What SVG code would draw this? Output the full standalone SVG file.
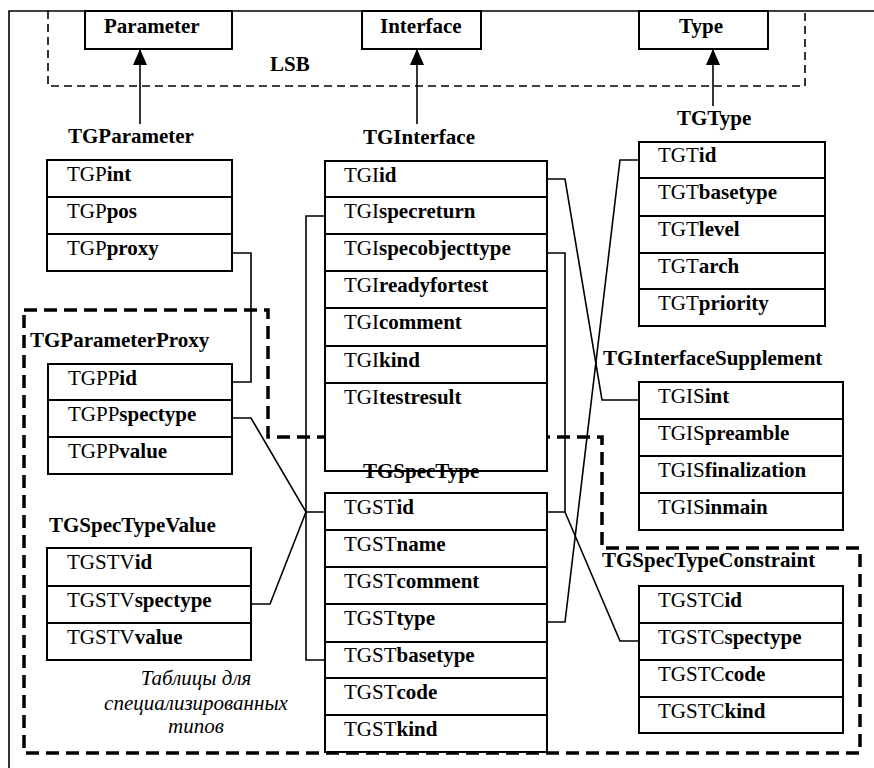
<svg xmlns="http://www.w3.org/2000/svg" width="874" height="768" viewBox="0 0 874 768">
<style>
text{font-family:"Liberation Serif","Times New Roman",serif;font-size:21px;fill:#000}
.b{font-weight:bold}
.it{font-style:italic}
.box{fill:#fff;stroke:#000;stroke-width:2}
.sep{stroke:#000;stroke-width:1.8}
.con{fill:none;stroke:#000;stroke-width:1.6}
.lsb{fill:none;stroke:#000;stroke-width:1.6;stroke-dasharray:8 5}
.grp{fill:none;stroke:#000;stroke-width:3.5;stroke-dasharray:13 7}
</style>
<defs>
<marker id="ah" viewBox="0 0 16 14" refX="16" refY="7" markerWidth="16" markerHeight="14" markerUnits="userSpaceOnUse" orient="auto">
<path d="M0,0 L16,7 L0,14 Z" fill="#000"/>
</marker>
</defs>
<rect x="0" y="0" width="874" height="768" fill="#fff"/>
<path d="M9,768 V11 H874" fill="none" stroke="#000" stroke-width="1.6"/>

<g id="lsb">
<path class="lsb" d="M48,11 V86 H805 V11"/>
<text class="b" x="270" y="71">LSB</text>
</g>

<g id="parameter">
<rect class="box" x="85" y="11" width="147" height="38"/>
<text class="b" x="104" y="33">Parameter</text>
</g>
<g id="interface">
<rect class="box" x="362" y="11" width="119" height="38"/>
<text class="b" x="380" y="33">Interface</text>
</g>
<g id="type">
<rect class="box" x="639" y="11" width="129" height="38"/>
<text class="b" x="679" y="33">Type</text>
</g>

<g id="region">
<path class="grp" d="M24,310 H268 V437 H602 V548 H860 V753 H24 Z"/>
<text class="it" text-anchor="middle" x="196" y="685">Таблицы для</text>
<text class="it" text-anchor="middle" x="196" y="710">специализированных</text>
<text class="it" text-anchor="middle" x="196" y="733">типов</text>
</g>

<g id="connectors">
<path class="con" d="M140,124 V49" marker-end="url(#ah)"/>
<path class="con" d="M417,124 V49" marker-end="url(#ah)"/>
<path class="con" d="M713,106 V49" marker-end="url(#ah)"/>
<path class="con" d="M232,253 H251 V382 H232"/>
<path class="con" d="M232,418 H251 L306,512 H325"/>
<path class="con" d="M251,604 H270 L306,512"/>
<path class="con" d="M325,216 H306 V660 H325"/>
<path class="con" d="M547,179 H565 L602,400 H639"/>
<path class="con" d="M547,253 H565 V512 H547"/>
<path class="con" d="M565,512 L620,641 H639"/>
<path class="con" d="M547,622 H565 L620,160 H639"/>
</g>

<g id="TGParameter">
<text class="b" x="68" y="143">TGParameter</text>
<rect class="box" x="47" y="160" width="185" height="111"/>
<line class="sep" x1="47" y1="197" x2="232" y2="197"/>
<line class="sep" x1="47" y1="234" x2="232" y2="234"/>
<text x="67" y="181">TGP<tspan class="b">int</tspan></text>
<text x="67" y="218">TGP<tspan class="b">pos</tspan></text>
<text x="67" y="255">TGP<tspan class="b">proxy</tspan></text>
</g>

<g id="TGInterface">
<text class="b" x="363" y="144">TGInterface</text>
<rect class="box" x="325" y="161" width="222" height="310"/>
<line class="sep" x1="325" y1="197" x2="547" y2="197"/>
<line class="sep" x1="325" y1="234" x2="547" y2="234"/>
<line class="sep" x1="325" y1="271" x2="547" y2="271"/>
<line class="sep" x1="325" y1="308" x2="547" y2="308"/>
<line class="sep" x1="325" y1="346" x2="547" y2="346"/>
<line class="sep" x1="325" y1="383" x2="547" y2="383"/>
<text x="344" y="182">TGI<tspan class="b">id</tspan></text>
<text x="344" y="218">TGI<tspan class="b">specreturn</tspan></text>
<text x="344" y="255">TGI<tspan class="b">specobjecttype</tspan></text>
<text x="344" y="292">TGI<tspan class="b">readyfortest</tspan></text>
<text x="344" y="329">TGI<tspan class="b">comment</tspan></text>
<text x="344" y="367">TGI<tspan class="b">kind</tspan></text>
<text x="344" y="404">TGI<tspan class="b">testresult</tspan></text>
</g>

<g id="TGType">
<text class="b" x="677" y="125">TGType</text>
<rect class="box" x="639" y="142" width="186" height="184"/>
<line class="sep" x1="639" y1="178" x2="825" y2="178"/>
<line class="sep" x1="639" y1="216" x2="825" y2="216"/>
<line class="sep" x1="639" y1="253" x2="825" y2="253"/>
<line class="sep" x1="639" y1="289" x2="825" y2="289"/>
<text x="658" y="162">TGT<tspan class="b">id</tspan></text>
<text x="658" y="199">TGT<tspan class="b">basetype</tspan></text>
<text x="658" y="236">TGT<tspan class="b">level</tspan></text>
<text x="658" y="273">TGT<tspan class="b">arch</tspan></text>
<text x="658" y="310">TGT<tspan class="b">priority</tspan></text>
</g>

<g id="TGParameterProxy">
<text class="b" x="30" y="347">TGParameterProxy</text>
<rect class="box" x="48" y="364" width="184" height="110"/>
<line class="sep" x1="48" y1="400" x2="232" y2="400"/>
<line class="sep" x1="48" y1="437" x2="232" y2="437"/>
<text x="68" y="385">TGPP<tspan class="b">id</tspan></text>
<text x="68" y="421">TGPP<tspan class="b">spectype</tspan></text>
<text x="68" y="458">TGPP<tspan class="b">value</tspan></text>
</g>

<g id="TGInterfaceSupplement">
<text class="b" x="603" y="365">TGInterfaceSupplement</text>
<rect class="box" x="639" y="382" width="204" height="148"/>
<line class="sep" x1="639" y1="419" x2="843" y2="419"/>
<line class="sep" x1="639" y1="456" x2="843" y2="456"/>
<line class="sep" x1="639" y1="493" x2="843" y2="493"/>
<text x="658" y="403">TGIS<tspan class="b">int</tspan></text>
<text x="658" y="440">TGIS<tspan class="b">preamble</tspan></text>
<text x="658" y="477">TGIS<tspan class="b">finalization</tspan></text>
<text x="658" y="514">TGIS<tspan class="b">inmain</tspan></text>
</g>

<g id="TGSpecType">
<rect class="box" x="325" y="493" width="222" height="259"/>
<line class="sep" x1="325" y1="530" x2="547" y2="530"/>
<line class="sep" x1="325" y1="567" x2="547" y2="567"/>
<line class="sep" x1="325" y1="604" x2="547" y2="604"/>
<line class="sep" x1="325" y1="642" x2="547" y2="642"/>
<line class="sep" x1="325" y1="678" x2="547" y2="678"/>
<line class="sep" x1="325" y1="715" x2="547" y2="715"/>
<text x="344" y="514">TGST<tspan class="b">id</tspan></text>
<text x="344" y="551">TGST<tspan class="b">name</tspan></text>
<text x="344" y="588">TGST<tspan class="b">comment</tspan></text>
<text x="344" y="625">TGST<tspan class="b">type</tspan></text>
<text x="344" y="662">TGST<tspan class="b">basetype</tspan></text>
<text x="344" y="699">TGST<tspan class="b">code</tspan></text>
<text x="344" y="736">TGST<tspan class="b">kind</tspan></text>
</g>
<g id="TGSpecTypeLabel">
<text class="b" x="363" y="478">TGSpecType</text>
</g>

<g id="TGSpecTypeValue">
<text class="b" x="49" y="532">TGSpecTypeValue</text>
<rect class="box" x="47" y="548" width="204" height="112"/>
<line class="sep" x1="47" y1="586" x2="251" y2="586"/>
<line class="sep" x1="47" y1="623" x2="251" y2="623"/>
<text x="67" y="569">TGSTV<tspan class="b">id</tspan></text>
<text x="67" y="607">TGSTV<tspan class="b">spectype</tspan></text>
<text x="67" y="644">TGSTV<tspan class="b">value</tspan></text>
</g>

<g id="TGSpecTypeConstraint">
<text class="b" x="602" y="567">TGSpecTypeConstraint</text>
<rect class="box" x="639" y="586" width="204" height="147"/>
<line class="sep" x1="639" y1="623" x2="843" y2="623"/>
<line class="sep" x1="639" y1="660" x2="843" y2="660"/>
<line class="sep" x1="639" y1="697" x2="843" y2="697"/>
<text x="658" y="607">TGSTC<tspan class="b">id</tspan></text>
<text x="658" y="644">TGSTC<tspan class="b">spectype</tspan></text>
<text x="658" y="681">TGSTC<tspan class="b">code</tspan></text>
<text x="658" y="718">TGSTC<tspan class="b">kind</tspan></text>
</g>
</svg>
